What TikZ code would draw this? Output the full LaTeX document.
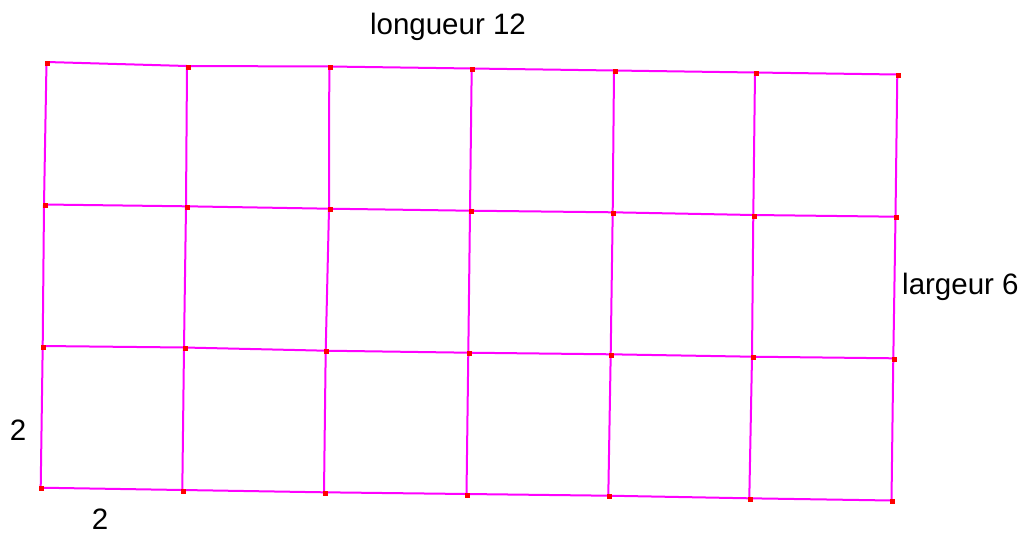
\documentclass[tikz,border=0pt]{standalone}
\usepackage{fontspec}
\setmainfont{Liberation Sans}
\definecolor{gridmag}{RGB}{255,0,255}
\definecolor{dotred}{RGB}{255,0,0}
\begin{document}
\begin{tikzpicture}[x=1pt,y=-1pt,
  gridline/.style={draw=gridmag,line width=2pt},
  dot/.style={fill=dotred,minimum size=5pt,inner sep=0pt,draw=none},
  lbl/.style={font=\fontsize{29.5}{34}\selectfont,inner sep=0pt,text=black}]
\useasboundingbox (0,0) rectangle (1031,538);
% row 1
\coordinate (a1) at (46.5,62);
\coordinate (a2) at (187,66);
\coordinate (a3) at (329.3,66.5);
\coordinate (a4) at (471.7,68.5);
\coordinate (a5) at (614,70.5);
\coordinate (a6) at (755,72.5);
\coordinate (a7) at (897.3,74.5);
% row 2
\coordinate (b1) at (44,204.5);
\coordinate (b2) at (186,206.3);
\coordinate (b3) at (329,208.7);
\coordinate (b4) at (470,210.7);
\coordinate (b5) at (612.7,212.3);
\coordinate (b6) at (753.3,215);
\coordinate (b7) at (895.5,216.7);
% row 3
\coordinate (c1) at (42.7,346);
\coordinate (c2) at (184,347.5);
\coordinate (c3) at (325.7,350.7);
\coordinate (c4) at (468.3,352.7);
\coordinate (c5) at (610.7,354.3);
\coordinate (c6) at (752,356.7);
\coordinate (c7) at (893.3,358.3);
% row 4
\coordinate (d1) at (40.7,487.7);
\coordinate (d2) at (182.3,490);
\coordinate (d3) at (324,492.3);
\coordinate (d4) at (466.5,494);
\coordinate (d5) at (608.3,495.7);
\coordinate (d6) at (749.3,498.3);
\coordinate (d7) at (891.5,500.5);
% horizontal lines
\foreach \r in {a,b,c,d}{
  \draw[gridline] (\r1) -- (\r2) -- (\r3) -- (\r4) -- (\r5) -- (\r6) -- (\r7);
}
% vertical lines
\foreach \k in {1,...,7}{
  \draw[gridline] (a\k) -- (b\k) -- (c\k) -- (d\k);
}
% dots
\foreach \r in {a,b,c,d}{
  \foreach \k in {1,...,7}{
    \node[dot] (p\r\k) at ([xshift=1pt,yshift=-1pt]\r\k) {};
  }
}
% labels
\node[lbl] (top) at (448,27) {longueur 12};
\node[lbl,anchor=west] (right) at (902,287) {largeur 6};
\node[lbl] (left) at (18,430) {2};
\node[lbl] (bottom) at (100,519) {2};
\end{tikzpicture}
\end{document}
